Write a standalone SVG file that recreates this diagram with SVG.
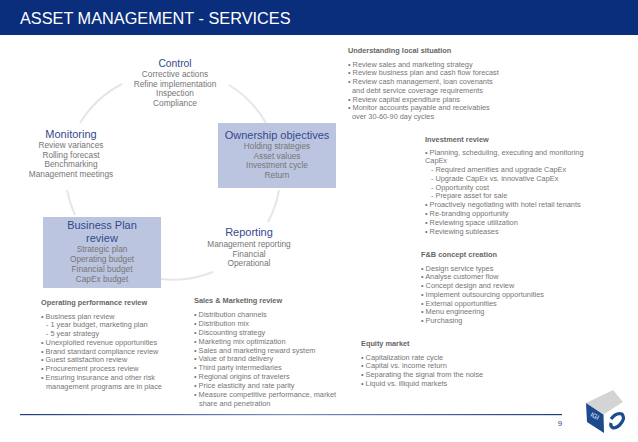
<svg xmlns="http://www.w3.org/2000/svg" width="638" height="442" viewBox="0 0 638 442">
<defs>
<linearGradient id="fl" x1="0" x2="1" y1="0" y2="0"><stop offset="0" stop-color="#1f3a80"/><stop offset="0.5" stop-color="#7f90b8"/><stop offset="1" stop-color="#1f3a80"/></linearGradient>
</defs>
<style>
text{font-family:"Liberation Sans",Arial,sans-serif}
.t{fill:#fff;font-size:16.3px}
.h{fill:#33498c;font-size:11px;text-anchor:middle}
.b{fill:#767676;font-size:8.3px;text-anchor:middle}
.s{fill:#767676;font-size:7.35px}
.sh{fill:#666;font-size:7.35px;font-weight:bold}
.box{fill:#bcc5e0}
.arc{fill:none;stroke:#e6e6e6;stroke-width:2}
</style>
<rect width="638" height="442" fill="#fff"/>
<rect id="header" width="638" height="35" fill="#0a2d7c"/>
<text class="t" x="20" y="24">ASSET MANAGEMENT - SERVICES</text>
<g id="connectors">
<path class="arc" d="M122 84A106 106 0 0 0 80 123"/>
<path class="arc" d="M229 85A106 106 0 0 1 266 123"/>
<path class="arc" d="M67 190A106 106 0 0 0 75 215"/>
<path class="arc" d="M279 190A106 106 0 0 1 268 222"/>
<path class="arc" d="M161 279A106 106 0 0 0 213 272"/>
</g>
<g id="control">
<text class="h" x="175" y="67" style="font-size:10.3px">Control</text>
<text class="b" x="175" y="77">Corrective actions</text>
<text class="b" x="175" y="87">Refine implementation</text>
<text class="b" x="175" y="96">Inspection</text>
<text class="b" x="175" y="106">Compliance</text>
</g>
<g id="monitoring">
<text class="h" x="71" y="138">Monitoring</text>
<text class="b" x="71" y="148">Review variances</text>
<text class="b" x="71" y="158">Rolling forecast</text>
<text class="b" x="71" y="167">Benchmarking</text>
<text class="b" x="71" y="177">Management meetings</text>
</g>
<g id="ownership">
<rect class="box" x="218" y="123" width="118" height="65"/>
<text class="h" x="277" y="139">Ownership objectives</text>
<text class="b" x="277" y="149">Holding strategies</text>
<text class="b" x="277" y="159">Asset values</text>
<text class="b" x="277" y="168">Investment cycle</text>
<text class="b" x="277" y="178">Return</text>
</g>
<g id="business-plan">
<rect class="box" x="43" y="217" width="118" height="71"/>
<text class="h" x="102" y="229">Business Plan</text>
<text class="h" x="102" y="242">review</text>
<text class="b" x="102" y="252">Strategic plan</text>
<text class="b" x="102" y="262">Operating budget</text>
<text class="b" x="102" y="272">Financial budget</text>
<text class="b" x="102" y="282">CapEx budget</text>
</g>
<g id="reporting">
<text class="h" x="249" y="236">Reporting</text>
<text class="b" x="249" y="247">Management reporting</text>
<text class="b" x="249" y="257">Financial</text>
<text class="b" x="249" y="266">Operational</text>
</g>
<g id="operating-review">
<text class="sh" x="41" y="305">Operating performance review</text>
<text class="s" x="41" y="319">• Business plan review</text>
<text class="s" x="46" y="327">- 1 year budget, marketing plan</text>
<text class="s" x="46" y="336">- 5 year strategy</text>
<text class="s" x="41" y="345">• Unexploited revenue opportunities</text>
<text class="s" x="41" y="354">• Brand standard compliance review</text>
<text class="s" x="41" y="362">• Guest satisfaction review</text>
<text class="s" x="41" y="371">• Procurement process review</text>
<text class="s" x="41" y="380">• Ensuring insurance and other risk</text>
<text class="s" x="46" y="389">management programs are in place</text>
</g>
<g id="sales-review">
<text class="sh" x="194" y="303">Sales &amp; Marketing review</text>
<text class="s" x="194" y="317">• Distribution channels</text>
<text class="s" x="194" y="326">• Distribution mix</text>
<text class="s" x="194" y="335">• Discounting strategy</text>
<text class="s" x="194" y="344">• Marketing mix optimization</text>
<text class="s" x="194" y="353">• Sales and marketing reward system</text>
<text class="s" x="194" y="361">• Value of brand delivery</text>
<text class="s" x="194" y="370">• Third party intermediaries</text>
<text class="s" x="194" y="379">• Regional origins of travelers</text>
<text class="s" x="194" y="388">• Price elasticity and rate parity</text>
<text class="s" x="194" y="397">• Measure competitive performance, market</text>
<text class="s" x="199" y="406">share and penetration</text>
</g>
<g id="understanding">
<text class="sh" x="348" y="53">Understanding local situation</text>
<text class="s" x="348" y="67">• Review sales and marketing strategy</text>
<text class="s" x="348" y="75">• Review business plan and cash flow forecast</text>
<text class="s" x="348" y="84">• Review cash management, loan covenants</text>
<text class="s" x="352" y="93">and debt service coverage requirements</text>
<text class="s" x="348" y="102">• Review capital expenditure plans</text>
<text class="s" x="348" y="110">• Monitor accounts payable and receivables</text>
<text class="s" x="352" y="119">over 30-60-90 day cycles</text>
</g>
<g id="investment">
<text class="sh" x="425" y="142">Investment review</text>
<text class="s" x="425" y="155">• Planning, scheduling, executing and monitoring</text>
<text class="s" x="425" y="163">CapEx</text>
<text class="s" x="431" y="172">- Required amenities and upgrade CapEx</text>
<text class="s" x="431" y="181">- Upgrade CapEx vs. innovative CapEx</text>
<text class="s" x="431" y="190">- Opportunity cost</text>
<text class="s" x="431" y="198">- Prepare asset for sale</text>
<text class="s" x="425" y="207">• Proactively negotiating with hotel retail tenants</text>
<text class="s" x="425" y="216">• Re-branding opportunity</text>
<text class="s" x="425" y="225">• Reviewing space utilization</text>
<text class="s" x="425" y="234">• Reviewing subleases</text>
</g>
<g id="fb">
<text class="sh" x="421" y="257">F&amp;B concept creation</text>
<text class="s" x="421" y="271">• Design service types</text>
<text class="s" x="421" y="279">• Analyse customer flow</text>
<text class="s" x="421" y="288">• Concept design and review</text>
<text class="s" x="421" y="297">• Implement outsourcing opportunities</text>
<text class="s" x="421" y="306">• External opportunities</text>
<text class="s" x="421" y="314">• Menu engineering</text>
<text class="s" x="421" y="323">• Purchasing</text>
</g>
<g id="equity">
<text class="sh" x="361" y="346">Equity market</text>
<text class="s" x="361" y="360">• Capitalization rate cycle</text>
<text class="s" x="361" y="368">• Capital vs. income return</text>
<text class="s" x="361" y="377">• Separating the signal from the noise</text>
<text class="s" x="361" y="386">• Liquid vs. illiquid markets</text>
</g>
<g id="footer">
<rect x="20" y="414" width="542" height="1.2" fill="url(#fl)"/>
<text x="560" y="426" font-size="8" fill="#33498c" text-anchor="middle">9</text>
</g>
<g id="logo">
<polygon points="613,390 623,402 604,414 586,403" fill="#d4d4d4"/>
<polygon points="586,403 603.5,414.5 604,433 587,422" fill="#1c4a8c"/>
<text x="590" y="416" font-size="6.5" fill="#fff" transform="rotate(28 590 416)">IGI</text>
<path d="M611 419Q616 412 622 414Q625 418 622 422Q618 428 613 428Q610 426 611 423" fill="none" stroke="#1c4a8c" stroke-width="3.2"/>
</g>
</svg>
